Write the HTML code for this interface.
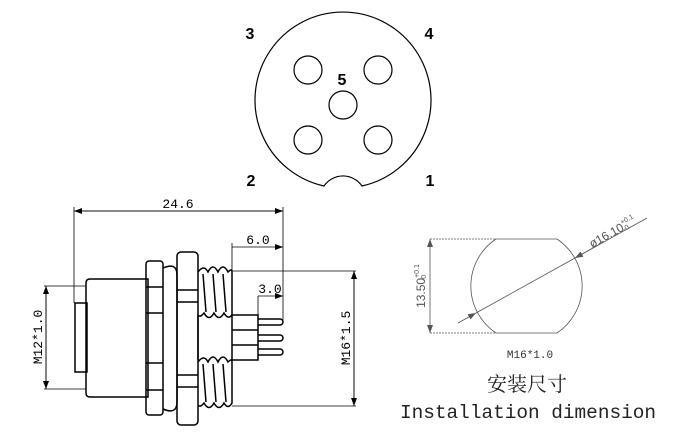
<!DOCTYPE html>
<html><head><meta charset="utf-8"><style>
html,body{margin:0;padding:0;background:#fff;}
svg{display:block;}
</style></head><body>
<svg width="680" height="440" viewBox="0 0 680 440" xmlns="http://www.w3.org/2000/svg">
<defs>
<marker id="a" markerWidth="8" markerHeight="6" refX="8" refY="3" orient="auto" markerUnits="userSpaceOnUse"><path d="M0,0 L8,3 L0,6 z" fill="#000"/></marker>
<marker id="ag" markerWidth="8" markerHeight="6" refX="8" refY="3" orient="auto" markerUnits="userSpaceOnUse"><path d="M0,0 L8,3 L0,6 z" fill="#555"/></marker>
</defs>
<!-- Top face view -->
<g fill="none" stroke="#000" stroke-width="1.2">
<path d="M324,186 A88,88 0 1 1 362,186 A23,23 0 0 0 324,186 Z"/>
<circle cx="308" cy="70" r="14"/><circle cx="378" cy="70" r="14"/>
<circle cx="343" cy="105" r="14"/>
<circle cx="308" cy="140" r="14"/><circle cx="378" cy="140" r="14"/>
</g>
<g font-family="Liberation Sans, sans-serif" font-weight="bold" font-size="16" text-anchor="middle">
<text x="250" y="39">3</text><text x="429" y="39">4</text><text x="342" y="85">5</text>
<text x="251" y="186">2</text><text x="430" y="186">1</text>
</g>
<!-- Side view -->
<g fill="none" stroke="#000" stroke-width="0.8">
<line x1="74" y1="211" x2="283" y2="211" marker-end="url(#a)"/>
<line x1="283" y1="211" x2="74" y2="211" marker-end="url(#a)"/>
<line x1="74" y1="207" x2="74" y2="303"/>
<line x1="283" y1="207" x2="283" y2="322"/>
<line x1="232" y1="247" x2="283" y2="247" marker-end="url(#a)"/>
<line x1="232" y1="243" x2="232" y2="272"/>
<line x1="258" y1="296" x2="283" y2="296" marker-end="url(#a)"/>
<line x1="258" y1="296" x2="258" y2="316"/>
<line x1="46" y1="286" x2="46" y2="389" marker-end="url(#a)"/>
<line x1="46" y1="389" x2="46" y2="286" marker-end="url(#a)"/>
<line x1="44" y1="286" x2="86" y2="286"/><line x1="44" y1="389" x2="86" y2="389"/>
<line x1="354" y1="271" x2="354" y2="406" marker-end="url(#a)"/>
<line x1="354" y1="406" x2="354" y2="271" marker-end="url(#a)"/>
<line x1="232" y1="271" x2="356" y2="271"/><line x1="232" y1="406" x2="356" y2="406"/>
</g>
<g fill="none" stroke="#000" stroke-width="1.5">
<rect x="75" y="303" width="12" height="69"/>
<path d="M90,279 H148 V397 H90 Q86,397 86,393 V283 Q86,279 90,279 Z"/>
<rect x="146" y="261" width="17" height="154" rx="3"/>
<line x1="146" y1="287" x2="163" y2="287"/><line x1="146" y1="313" x2="163" y2="313"/>
<line x1="146" y1="363" x2="163" y2="363"/><line x1="146" y1="390" x2="163" y2="390"/>
<path d="M163,268 Q177,262 177,275 V402 Q177,415 163,409"/>
<rect x="177" y="252" width="21" height="173" rx="4"/>
<line x1="177" y1="290" x2="198" y2="290"/><line x1="177" y1="302" x2="198" y2="302"/>
<line x1="177" y1="375" x2="198" y2="375"/><line x1="177" y1="387" x2="198" y2="387"/>
<path d="M198,272 Q204,264 208,272 Q213,262 218,272 Q223,262 228,272 Q232,268 232,272 V315 Q228,320 224,313 Q219,322 214,313 Q209,322 204,313 Q200,318 198,315"/>
<line x1="203" y1="274" x2="206" y2="312"/><line x1="213" y1="274" x2="216" y2="312"/><line x1="223" y1="274" x2="226" y2="312"/>
<path d="M198,362 Q204,354 208,362 Q213,352 218,362 Q223,352 228,362 Q232,358 232,362 V403 Q228,410 224,403 Q219,412 214,403 Q209,412 204,403 Q200,408 198,405"/>
<line x1="203" y1="364" x2="206" y2="402"/><line x1="213" y1="364" x2="216" y2="402"/><line x1="223" y1="364" x2="226" y2="402"/>
<line x1="198" y1="315" x2="198" y2="360"/>
<rect x="232" y="315" width="26" height="45"/>
<line x1="232" y1="330" x2="258" y2="330"/><line x1="232" y1="345" x2="258" y2="345"/>
<path d="M258,319 H280 A3,3 0 0 1 280,325 H258"/>
<path d="M258,335 H280 A3,3 0 0 1 280,341 H258"/>
<path d="M258,349 H280 A3,3 0 0 1 280,355 H258"/>
</g>
<g font-family="Liberation Mono, monospace" font-size="13" fill="#000">
<text x="178" y="208" text-anchor="middle">24.6</text>
<text x="258" y="244" text-anchor="middle">6.0</text>
<text x="270" y="293" text-anchor="middle">3.0</text>
<text transform="translate(42,337) rotate(-90)" text-anchor="middle">M12*1.0</text>
<text transform="translate(350,338) rotate(-90)" text-anchor="middle">M16*1.5</text>
</g>
<!-- Installation view -->
<g fill="none" stroke="#555" stroke-width="0.8">
<path d="M496,239 H557 A56.5,56.5 0 0 1 557,333 H496 A56.5,56.5 0 0 1 496,239 Z"/>
<line x1="430" y1="239" x2="496" y2="239" stroke-dasharray="2,1"/>
<line x1="430" y1="333" x2="496" y2="333" stroke-dasharray="2,1"/>
<line x1="430" y1="286" x2="430" y2="239" marker-end="url(#ag)"/>
<line x1="430" y1="286" x2="430" y2="333" marker-end="url(#ag)"/>
<line x1="458" y1="323" x2="476" y2="313" marker-end="url(#ag)"/>
<line x1="647" y1="218" x2="575" y2="258"/>
<line x1="476" y1="313" x2="575" y2="258"/>
<line x1="600" y1="244" x2="575" y2="258" marker-end="url(#ag)"/>
</g>
<g font-family="Liberation Sans, sans-serif" fill="#555">
<text transform="translate(425,286) rotate(-90)" text-anchor="middle" font-size="12">13.50<tspan font-size="7" dy="-6">+0.1</tspan><tspan font-size="7" dx="-17" dy="7">-0</tspan></text>
<text transform="translate(592,248) rotate(-29)" font-size="12">ø16.10<tspan font-size="7" dy="-6">+0.1</tspan><tspan font-size="7" dx="-15" dy="7">-0</tspan></text>
</g>
<text x="530" y="358" text-anchor="middle" font-family="Liberation Mono, monospace" font-size="11" fill="#333">M16*1.0</text>
<text x="527" y="391" text-anchor="middle" font-family="Liberation Serif, 'Noto Serif CJK SC', serif" font-size="20" fill="#222">安装尺寸</text>
<text x="528" y="418" text-anchor="middle" font-family="Liberation Mono, monospace" font-size="19.4" fill="#222">Installation dimension</text>
</svg>
</body></html>
